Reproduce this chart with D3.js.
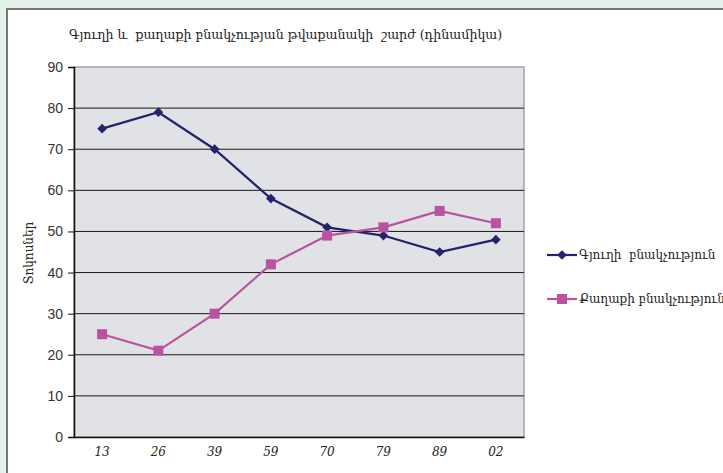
<!DOCTYPE html>
<html>
<head>
<meta charset="utf-8">
<script src="https://cdn.jsdelivr.net/npm/d3@7"></script>
<style>
  html, body { margin: 0; padding: 0; background: #e5f2e9; }
  svg { display: block; }
</style>
</head>
<body>
<svg id="chart" width="723" height="473"></svg>
<script>
// Census years (two-digit) and population shares, %
const years = ["13", "26", "39", "59", "70", "79", "89", "02"];
const rural = [75, 79, 70, 58, 51, 49, 45, 48];
const urban = [25, 21, 30, 42, 49, 51, 55, 52];
const yTicks = [0, 10, 20, 30, 40, 50, 60, 70, 80, 90];

const titleText = "Գյուղի և  քաղաքի բնակչության թվաքանակի  շարժ (դինամիկա)";
const yLabel = "Տոկոսներ";
const seriesNames = ["Գյուղի  բնակչություն", "Քաղաքի բնակչություն"];

const colRural = "#23236e";
const colUrban = "#b9529f";
const armFont = "'DejaVu Serif', serif";

const svg = d3.select("#chart");

// white panel with grey frame
svg.append("rect")
  .attr("x", 7).attr("y", 9).attr("width", 730).attr("height", 480)
  .attr("fill", "#ffffff").attr("stroke", "#777777").attr("stroke-width", 2);

const plot = { left: 74, right: 524, top: 67, bottom: 437 };

const x = d3.scaleBand().domain(years).range([plot.left, plot.right]);
const y = d3.scaleLinear().domain([0, 90]).range([plot.bottom, plot.top]);

// plot area
svg.append("rect")
  .attr("x", plot.left).attr("y", plot.top)
  .attr("width", plot.right - plot.left).attr("height", plot.bottom - plot.top)
  .attr("fill", "#e1e2e5").attr("stroke", "#a3a3a6").attr("stroke-width", 1.5);

// horizontal gridlines
svg.append("g").selectAll("line")
  .data(yTicks.filter(t => t > 0 && t < 90))
  .join("line")
  .attr("x1", plot.left).attr("x2", plot.right)
  .attr("y1", d => y(d)).attr("y2", d => y(d))
  .attr("stroke", "#1a1a1a").attr("stroke-width", 1);

// y axis
const yAxis = svg.append("g")
  .attr("transform", `translate(${plot.left},0)`)
  .call(d3.axisLeft(y).tickValues(yTicks).tickSize(6).tickPadding(5));
yAxis.select(".domain").attr("stroke", "#111").attr("stroke-width", 1.5);
yAxis.selectAll(".tick line").attr("stroke", "#111");
yAxis.selectAll("text")
  .attr("font-family", "'Liberation Sans', Arial, sans-serif")
  .attr("font-size", 14).attr("fill", "#333");

// x axis baseline and labels
const xAxis = svg.append("g")
  .attr("transform", `translate(0,${plot.bottom})`)
  .call(d3.axisBottom(x).tickSize(0).tickPadding(10));
xAxis.select(".domain").attr("stroke", "#111").attr("stroke-width", 1.5);
xAxis.selectAll("text")
  .attr("font-family", "'DejaVu Serif', serif")
  .attr("font-style", "italic")
  .attr("font-size", 12).attr("fill", "#222");

// title
svg.append("text")
  .attr("x", 69).attr("y", 39)
  .attr("font-family", armFont).attr("font-size", 12.6).attr("fill", "#222")
  .attr("xml:space", "preserve")
  .text(titleText);

// y label
svg.append("text")
  .attr("transform", `translate(33,253) rotate(-90)`)
  .attr("text-anchor", "middle")
  .attr("font-family", armFont).attr("font-size", 12).attr("fill", "#222")
  .text(yLabel);

const cx = d => x(d) + x.bandwidth() / 2;
const line = d3.line().x((d, i) => cx(years[i])).y(d => y(d));

// rural series: line + diamonds
svg.append("path").datum(rural)
  .attr("d", line).attr("fill", "none")
  .attr("stroke", colRural).attr("stroke-width", 2.2);
svg.append("g").selectAll("path")
  .data(rural).join("path")
  .attr("d", d3.symbol(d3.symbolDiamond2, 60))
  .attr("transform", (d, i) => `translate(${cx(years[i])},${y(d)})`)
  .attr("fill", colRural);

// urban series: line + squares
svg.append("path").datum(urban)
  .attr("d", line).attr("fill", "none")
  .attr("stroke", colUrban).attr("stroke-width", 2.2);
svg.append("g").selectAll("rect")
  .data(urban).join("rect")
  .attr("x", (d, i) => cx(years[i]) - 5)
  .attr("y", d => y(d) - 5)
  .attr("width", 10).attr("height", 10)
  .attr("fill", colUrban);

// legend
const legend = svg.append("g");
const legendRows = [
  { name: seriesNames[0], color: colRural, mark: "diamond", y: 255 },
  { name: seriesNames[1], color: colUrban, mark: "square", y: 299 }
];
legendRows.forEach(r => {
  legend.append("line")
    .attr("x1", 547).attr("x2", 577).attr("y1", r.y).attr("y2", r.y)
    .attr("stroke", r.color).attr("stroke-width", 2.2);
  if (r.mark === "diamond") {
    legend.append("path")
      .attr("d", d3.symbol(d3.symbolDiamond2, 60))
      .attr("transform", `translate(562,${r.y})`)
      .attr("fill", r.color);
  } else {
    legend.append("rect")
      .attr("x", 557).attr("y", r.y - 5).attr("width", 10).attr("height", 10)
      .attr("fill", r.color);
  }
  legend.append("text")
    .attr("x", 579).attr("y", r.y + 4)
    .attr("font-family", armFont).attr("font-size", 12).attr("fill", "#222")
    .attr("xml:space", "preserve")
    .text(r.name);
});
</script>
</body>
</html>
